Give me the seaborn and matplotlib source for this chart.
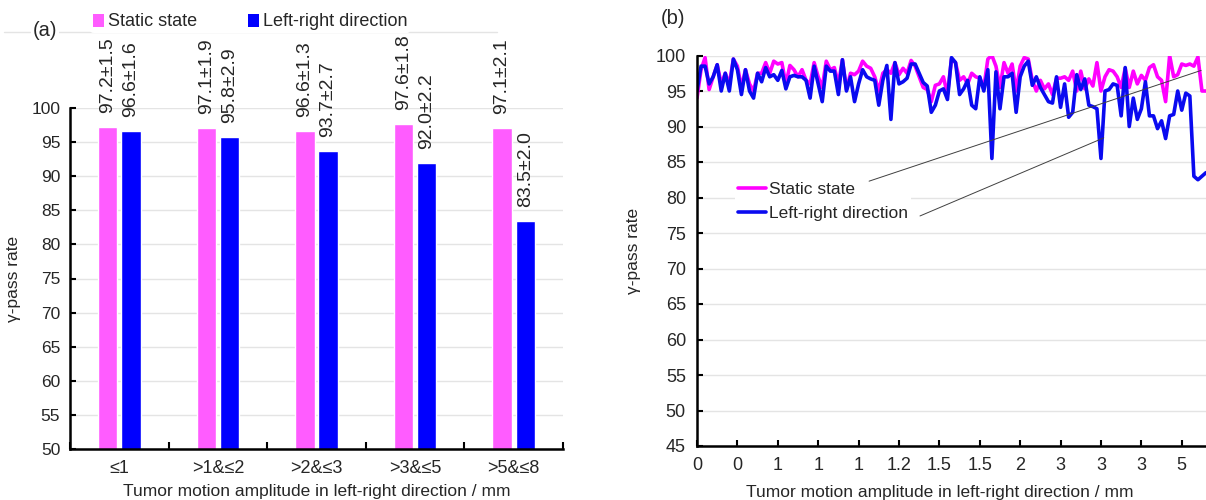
import numpy as np
import pandas as pd
import seaborn as sns
import matplotlib
matplotlib.use("Agg")
import matplotlib.pyplot as plt
from matplotlib.patches import Patch
from matplotlib.lines import Line2D

# ---------------- data ----------------
categories = ["≤1", ">1&≤2", ">2&≤3", ">3&≤5", ">5&≤8"]
static_mean = [97.2, 97.1, 96.6, 97.6, 97.1]
static_sd = [1.5, 1.9, 1.3, 1.8, 2.1]
lr_mean = [96.6, 95.8, 93.7, 92.0, 83.5]
lr_sd = [1.6, 2.9, 2.7, 2.2, 2.0]
series_names = ["Static state", "Left-right direction"]

static_line = [94.0, 98.0, 99.7, 95.2, 97.0, 98.7, 96.0, 97.5, 96.0, 99.5,
               98.5, 95.5, 98.0, 96.0, 95.0, 97.5, 97.5, 99.0, 97.5, 99.2,
               98.8, 99.0, 96.0, 98.6, 98.0, 97.0, 98.0, 96.5, 96.0, 99.0,
               97.0, 95.5, 99.2, 98.0, 98.3, 96.0, 99.4, 95.2, 97.5, 97.3,
               97.8, 99.2, 98.5, 98.2, 97.0, 95.0, 97.5, 98.0, 97.5, 99.0,
               97.3, 98.2, 97.5, 99.3, 98.5, 97.0, 95.5, 95.2, 93.5, 95.8,
               96.0, 97.0, 94.5, 99.5, 99.0, 96.5, 97.0, 96.0, 97.5, 97.0,
               96.8, 95.5, 99.5, 100.0, 98.5, 95.5, 99.0, 97.5, 98.8, 95.0,
               98.5, 99.7, 99.5, 96.5, 95.0, 96.5, 95.3, 96.0, 94.5, 96.8,
               96.8, 97.0, 96.5, 97.8, 95.0, 97.8, 95.3, 96.7, 95.7, 99.0,
               95.0, 97.0, 98.0, 97.8, 97.0, 95.5, 98.2, 95.5, 97.8, 96.0,
               97.2, 96.5, 98.3, 98.7, 97.0, 96.5, 93.5, 100.0, 97.0, 97.3,
               98.8, 98.6, 98.8, 98.5, 99.8, 95.0, 95.0]
lr_line = [95.0, 98.5, 98.5, 96.0, 97.0, 98.7, 95.0, 97.5, 95.0, 99.5,
           98.0, 94.5, 98.0, 95.0, 94.0, 97.5, 96.3, 98.3, 97.0, 97.3,
           96.5, 97.9, 95.3, 97.0, 97.2, 97.0, 97.0, 96.5, 94.0, 98.5,
           96.0, 93.5, 98.5, 97.8, 97.8, 94.5, 99.4, 95.0, 97.0, 93.5,
           96.0, 98.0, 97.0, 96.7, 96.5, 93.0, 96.5, 98.6, 91.0, 99.0,
           96.0, 96.3, 96.8, 98.8, 98.8, 97.5, 96.2, 95.7, 92.0, 93.0,
           95.0, 95.3, 93.8, 99.7, 99.0, 94.5, 95.3, 96.5, 93.0, 92.5,
           97.0, 95.0, 98.0, 85.5, 97.7, 92.5, 97.0, 97.0, 97.5, 92.0,
           97.0, 98.5, 99.2, 95.8, 97.0, 95.5, 94.5, 93.5, 93.3, 97.0,
           92.7, 96.0, 91.3, 92.0, 97.3, 95.2, 96.7, 93.0, 92.8, 92.5,
           85.5, 95.0, 95.2, 96.0, 95.8, 91.5, 98.3, 90.0, 94.0, 91.0,
           92.5, 96.3, 91.5, 91.5, 89.7, 90.8, 88.3, 91.5, 91.7, 95.0,
           92.3, 94.7, 94.3, 83.0, 82.5, 83.0, 83.5]
b_tick_labels = ["0", "0", "1", "1", "1", "1.2", "1.5", "1.5", "2", "3", "3", "3", "5"]

# ---------------- style ----------------
sns.set_theme(style="white")
plt.rcParams["font.family"] = ["Liberation Sans", "DejaVu Sans"]

magenta_bar = "#FF5CFF"
blue_bar = "#0000FF"
magenta_line = "#FF00FF"
blue_line = "#0A0AF0"
grid_c = "#E4E4E4"

W, H = 1206, 500
fig = plt.figure(figsize=(W / 100, H / 100), dpi=100)

def fx(px):
    return px / W

def fy(py):
    return 1 - py / H

# ---------------- panel (a) ----------------
axa = fig.add_axes([fx(70), fy(449), fx(563) - fx(70), fy(108) - fy(449)])
df_a = pd.DataFrame({
    "cat": categories * 2,
    "val": static_mean + lr_mean,
    "cond": [series_names[0]] * 5 + [series_names[1]] * 5,
})
sns.barplot(data=df_a, x="cat", y="val", hue="cond", palette=[magenta_bar, blue_bar],
            width=0.47, gap=0.16, errorbar=None, ax=axa, legend=False, saturation=1)
axa.set_ylim(50, 100)
axa.set_xlim(-0.5, 4.5)
axa.set_yticks(np.arange(50, 101, 5))
axa.yaxis.grid(True, color=grid_c, lw=1)
axa.set_axisbelow(True)
for s in ["top", "right"]:
    axa.spines[s].set_visible(False)
for s in ["left", "bottom"]:
    axa.spines[s].set_color("black")
    axa.spines[s].set_linewidth(1.8)
axa.tick_params(axis="y", direction="in", length=4, width=1.5, color="black",
                labelsize=12.5, pad=7, left=True)
axa.tick_params(axis="x", which="major", length=0, labelsize=13, pad=8)
axa.set_xticks(np.arange(-0.5, 5, 1), minor=True)
axa.tick_params(axis="x", which="minor", direction="in", length=5, width=1.5,
                color="black", bottom=True)
axa.set_xlabel("Tumor motion amplitude in left-right direction / mm", fontsize=12.5, labelpad=5)
axa.set_ylabel("γ-pass rate", fontsize=12.5, labelpad=8)
axa.yaxis.set_label_coords(-0.1, 0.5)

for cont, means, sds in zip(axa.containers, [static_mean, lr_mean], [static_sd, lr_sd]):
    labs = [f"{m:.1f}±{s:.1f}" for m, s in zip(means, sds)]
    axa.bar_label(cont, labels=labs, rotation=90, padding=10, fontsize=14, clip_on=False)

# top decorative line
fig.add_artist(Line2D([fx(4), fx(497)], [fy(32), fy(32)], color=grid_c, lw=1,
                      transform=fig.transFigure, zorder=0))
handles_a = [Patch(facecolor=magenta_bar, edgecolor="none"),
             Patch(facecolor=blue_bar, edgecolor="none")]
fig.legend(handles_a, series_names, loc="center left",
           bbox_to_anchor=(fx(90), fy(22)), ncol=2, frameon=True, facecolor="white",
           edgecolor="none", framealpha=1, fontsize=13, handlelength=0.6,
           handleheight=0.75, handletextpad=0.25, columnspacing=2.8, borderpad=0.15,
           borderaxespad=0)
fig.text(fx(45), fy(30), "(a)", fontsize=14.5, ha="center", va="center",
         bbox=dict(facecolor="white", edgecolor="none", pad=1))

# ---------------- panel (b) ----------------
axb = fig.add_axes([fx(697), fy(446), 1 - fx(697), fy(55.5) - fy(446)])
n = len(static_line)
df_b = pd.DataFrame({
    "idx": list(range(n)) * 2,
    "val": static_line + lr_line,
    "series": [series_names[0]] * n + [series_names[1]] * n,
})
sns.lineplot(data=df_b, x="idx", y="val", hue="series", palette=[magenta_line, blue_line],
             lw=2.6, ax=axb, legend=False, sort=False)
axb.set_xlim(0, n - 1)
axb.set_ylim(45, 100)
axb.set_yticks(np.arange(45, 101, 5))
axb.set_xticks(np.arange(0, 10 * len(b_tick_labels), 10))
axb.set_xticklabels(b_tick_labels)
axb.yaxis.grid(True, color=grid_c, lw=1)
axb.set_axisbelow(True)
for s in ["top", "right"]:
    axb.spines[s].set_visible(False)
for s in ["left", "bottom"]:
    axb.spines[s].set_color("black")
    axb.spines[s].set_linewidth(1.8)
axb.tick_params(axis="both", direction="in", length=4, width=1.5, color="black",
                labelsize=13, pad=8, left=True, bottom=True)
axb.set_xlabel("")
axb.set_ylabel("γ-pass rate", fontsize=12.5)
axb.yaxis.set_label_coords(-0.11, 0.5)
fig.text(fx(940), fy(492), "Tumor motion amplitude in left-right direction / mm",
         fontsize=12.5, ha="center", va="center")

handles_b = [Line2D([], [], color=magenta_line, lw=2.6),
             Line2D([], [], color=blue_line, lw=2.6)]
leg = axb.legend(handles_b, series_names, loc="upper left",
                 bbox_to_anchor=(fx(735), fy(178)), bbox_transform=fig.transFigure,
                 frameon=True, facecolor="white", edgecolor="none", framealpha=1,
                 fontsize=12.5, handlelength=1.6, handletextpad=0.15, labelspacing=0.55,
                 borderpad=0.2, borderaxespad=0)
leg.set_zorder(3)
axb.annotate("", xy=(124.8, 97.9), xytext=(42.6, 82.3),
             arrowprops=dict(arrowstyle="-", color="#404040", lw=0.7,
                             shrinkA=0, shrinkB=0), zorder=4)
axb.annotate("", xy=(100.7, 88.4), xytext=(55.2, 77.4),
             arrowprops=dict(arrowstyle="-", color="#404040", lw=0.7,
                             shrinkA=0, shrinkB=0), zorder=4)
fig.text(fx(673), fy(18), "(b)", fontsize=14.5, ha="center", va="center")

fig.savefig("out.png", dpi=100)
